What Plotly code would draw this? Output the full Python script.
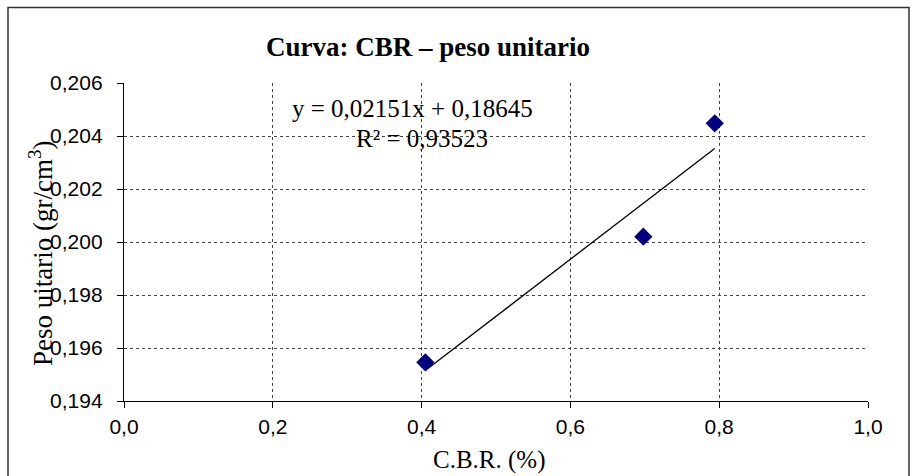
import numpy as np
import plotly.graph_objects as go

# Data
cbr = [0.405, 0.698, 0.794]
peso = [0.19546, 0.2002, 0.20448]
x_ticks = [0.0, 0.2, 0.4, 0.6, 0.8, 1.0]
y_ticks = [0.194, 0.196, 0.198, 0.200, 0.202, 0.204, 0.206]

W, H = 912, 476
L, R, T, B = 124, 44, 83, 75
pw, ph = W - L - R, H - T - B

def px(xp):
    return (xp - L) / pw

def py(yp):
    return (H - B - yp) / ph

slope, intercept = np.polyfit(cbr, peso, 1)
xfit = np.array([min(cbr), max(cbr)])
yfit = slope * xfit + intercept

fig = go.Figure()
fig.add_trace(go.Scatter(x=list(xfit), y=list(yfit), mode="lines",
                         line=dict(color="black", width=1.3), showlegend=False))
fig.add_trace(go.Scatter(x=cbr, y=peso, mode="markers",
                         marker=dict(symbol="diamond", size=14, color="#000080",
                                     line=dict(width=0)), showlegend=False))

serif = "Liberation Serif, Times New Roman, serif"
sans = "Liberation Sans, Arial, sans-serif"

fig.update_layout(
    width=W, height=H,
    margin=dict(l=L, r=R, t=T, b=B),
    paper_bgcolor="white", plot_bgcolor="white",
    separators=", ",
    xaxis=dict(range=[0, 1], tickvals=x_ticks, tickformat=".1f",
               showgrid=True, gridcolor="#444", griddash="dot", gridwidth=1,
               showline=True, linecolor="black", linewidth=1.3,
               ticks="outside", ticklen=6, tickcolor="black",
               ticklabelstandoff=1,
               tickfont=dict(family=sans, size=21, color="black"),
               zeroline=False),
    yaxis=dict(range=[0.194, 0.206], tickvals=y_ticks, tickformat=".3f",
               showgrid=True, gridcolor="#444", griddash="dot", gridwidth=1,
               showline=True, linecolor="black", linewidth=1.3,
               ticks="outside", ticklen=6, tickcolor="black",
               ticklabelstandoff=10,
               tickfont=dict(family=sans, size=21, color="black"),
               zeroline=False),
    font=dict(family=serif, color="black"),
)

anns = [
    dict(text="<b>Curva: CBR – peso unitario</b>", x=px(428), y=py(47),
         font=dict(family=serif, size=27)),
    dict(text="y = 0,02151x + 0,18645", x=px(412), y=py(108),
         font=dict(family=serif, size=25)),
    dict(text="R² = 0,93523", x=px(422), y=py(138),
         font=dict(family=serif, size=25)),
    dict(text="C.B.R. (%)", x=px(489), y=py(460),
         font=dict(family=serif, size=25)),
    dict(text="Peso uitario (gr/cm<sup>3</sup>)", x=px(41), y=py(254),
         textangle=-90, font=dict(family=serif, size=27)),
]
for a in anns:
    fig.add_annotation(xref="paper", yref="paper", showarrow=False,
                       xanchor="center", yanchor="middle", **a)

fig.add_shape(type="rect", xref="paper", yref="paper",
              x0=px(8), x1=px(909), y0=py(480), y1=py(7.5),
              line=dict(color="#333", width=1.5), layer="below")

fig.write_html("out.html")
